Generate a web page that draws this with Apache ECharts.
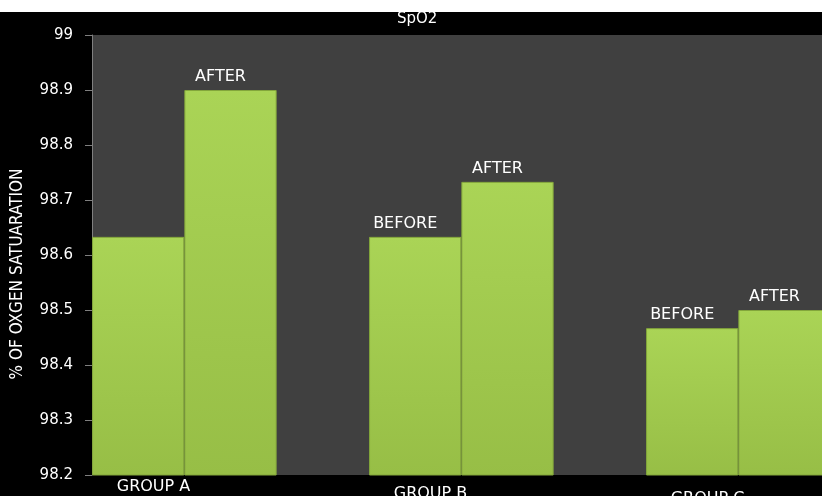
<!doctype html>
<html lang="en">
<head>
    <meta charset="UTF-8">
    <title>SpO2</title>
    <script src="https://cdn.jsdelivr.net/npm/echarts@6/dist/echarts.min.js"></script>
    <style>
        html, body {
            margin: 0;
            padding: 0;
            background: #fff;
        }
        .chart {
            position: absolute;
            left: 0;
            top: 12px;
            width: 822px;
            height: 484px;
        }
    </style>
</head>
<body>
<div id="chart" class="chart"></div>
<script>
    // 数据
    const groups = ['GROUP A', 'GROUP B', 'GROUP C'];
    const beforeValues = [98.633, 98.633, 98.467];
    const afterValues = [98.9, 98.733, 98.5];
    const yTicks = { min: 98.2, max: 99, step: 0.1 };

    const barFill = new echarts.graphic.LinearGradient(0, 0, 0, 1, [
        { offset: 0, color: '#aad456' },
        { offset: 1, color: '#97be46' }
    ]);

    const barStyle = {
        color: barFill,
        borderColor: '#83a63b',
        borderWidth: 1
    };

    const labelStyle = {
        show: true,
        position: 'top',
        distance: 5,
        offset: [-10, 0],
        color: '#fff',
        fontSize: 16,
        fontFamily: 'DejaVu Sans',
        formatter: p => p.seriesName
    };

    // 分组标签在原图中略微错开
    const groupLabelRich = {
        g0: { padding: [0, 154, 0, 0] },
        g1: { padding: [7, 154, 0, 0] },
        g2: { padding: [12, 154, 0, 0] }
    };

    const myChart = echarts.init(document.getElementById('chart'));
    const option = {
        backgroundColor: '#000',
        animation: false,
        title: {
            text: 'SpO2',
            left: 397,
            top: 0,
            padding: 0,
            textStyle: {
                color: '#fff',
                fontSize: 15,
                fontWeight: 'normal',
                fontFamily: 'DejaVu Sans'
            }
        },
        grid: {
            left: 92,
            top: 23,
            width: 831,
            bottom: 21,
            outerBoundsMode: 'none',
            containLabel: false,
            show: true,
            backgroundColor: '#404040',
            borderWidth: 0
        },
        xAxis: {
            type: 'category',
            data: groups,
            axisLine: { show: false },
            axisTick: { show: false },
            axisLabel: {
                color: '#fff',
                fontSize: 16,
                fontFamily: 'DejaVu Sans',
                margin: 4,
                verticalAlign: 'top',
                formatter: (v, i) => `{g${i}|${v}}`,
                rich: Object.fromEntries(Object.entries(groupLabelRich).map(([k, s]) => [k, {
                    ...s, color: '#fff', fontSize: 16, fontFamily: 'DejaVu Sans'
                }]))
            }
        },
        yAxis: {
            type: 'value',
            min: yTicks.min,
            max: yTicks.max,
            interval: yTicks.step,
            name: '% OF OXGEN SATUARATION',
            nameLocation: 'middle',
            nameGap: 66,
            nameTextStyle: {
                color: '#fff',
                fontSize: 17,
                fontFamily: '"DejaVu Sans Condensed", sans-serif',
                padding: [0, 38, 0, 0]
            },
            splitLine: { show: false },
            axisLine: { show: true, lineStyle: { color: '#7f7f7f' } },
            axisTick: { show: true, length: 7, lineStyle: { color: '#7f7f7f' } },
            axisLabel: {
                color: '#fff',
                fontSize: 15,
                fontFamily: 'DejaVu Sans',
                margin: 19,
                formatter: v => String(Number(v.toFixed(1)))
            }
        },
        series: [
            {
                name: 'BEFORE',
                type: 'bar',
                barWidth: 92.3,
                barGap: '0%',
                itemStyle: barStyle,
                label: labelStyle,
                // GROUP A 的 BEFORE 标签在原图中没有显示
                data: beforeValues.map((v, i) => i === 0 ? { value: v, label: { show: false } } : v)
            },
            {
                name: 'AFTER',
                type: 'bar',
                barWidth: 92.3,
                barGap: '0%',
                itemStyle: barStyle,
                label: labelStyle,
                data: afterValues
            },
            {
                // 占位系列，使柱子靠左排列
                name: 'gap',
                type: 'bar',
                barWidth: 92.3,
                barGap: '0%',
                data: groups.map(() => '-')
            }
        ]
    };

    myChart.setOption(option);
</script>
</body>
</html>
